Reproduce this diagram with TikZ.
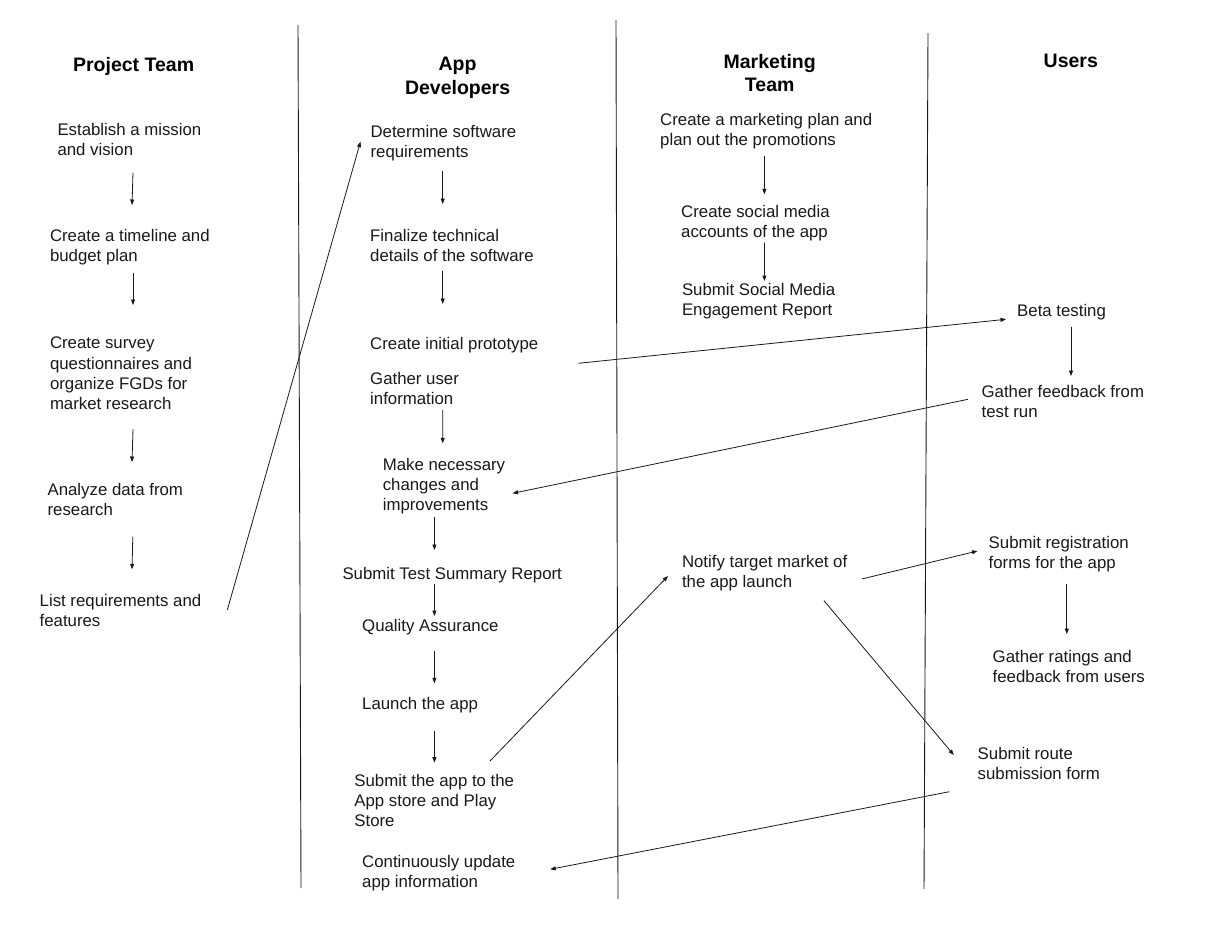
\documentclass[tikz,border=0pt]{standalone}
\usepackage{fontspec}
\setmainfont{Liberation Sans}
\usetikzlibrary{arrows.meta}
\begin{document}
\begin{tikzpicture}[x=1pt,y=-1pt,
  txt/.style={anchor=north west, inner sep=0pt, align=left, font=\fontsize{16.8}{20.1}\selectfont, text=black!90},
  head/.style={anchor=north, inner sep=0pt, align=center, font=\bfseries\fontsize{19.5}{23.3}\selectfont},
  arr/.style={-{Triangle[length=5.5pt,width=4pt]}, line width=0.8pt, black!90},
  lane/.style={line width=0.9pt, black!90}]
\fill[white] (0,0) rectangle (1214,929);
\useasboundingbox (0,0) rectangle (1214,929);

% lanes
\coordinate (l1t) at (298,25);  \coordinate (l1b) at (301,888);
\coordinate (l2t) at (616,20);  \coordinate (l2b) at (618,899);
\coordinate (l3t) at (928,33);  \coordinate (l3b) at (924,889);
\draw[lane] (l1t) -- (l1b);
\draw[lane] (l2t) -- (l2b);
\draw[lane] (l3t) -- (l3b);

% headers
\node[head] (hpt) at (133.6,56.7) {Project Team};
\node[head] (had) at (457.6,57.3) {App\\Developers};
\node[head] (hmk) at (769.7,54.3) {Marketing\\Team};
\node[head] (hus) at (1070.8,54.3) {Users};

% project team
\node[txt] (est) at (57.3,122.7) {Establish a mission\\and vision};
\node[txt] (tl)  at (49.8,229)   {Create a timeline and\\budget plan};
\node[txt] (sv)  at (49.8,337)   {Create survey\\questionnaires and\\organize FGDs for\\market research};
\node[txt] (an)  at (47.4,482.7) {Analyze data from\\research};
\node[txt] (lr)  at (39.5,594.3) {List requirements and\\features};

% app developers
\node[txt] (dsr) at (370.4,125)   {Determine software\\requirements};
\node[txt] (ftd) at (370,229.3)   {Finalize technical\\details of the software};
\node[txt] (cip) at (370,337.3)   {Create initial prototype};
\node[txt] (gui) at (370,371.7)   {Gather user\\information};
\node[txt] (mnc) at (382.6,458.3) {Make necessary\\changes and\\improvements};
\node[txt] (sts) at (342.3,567.3) {Submit Test Summary Report};
\node[txt] (qa)  at (362,619.3)   {Quality Assurance};
\node[txt] (la)  at (362,697.3)   {Launch the app};
\node[txt] (sas) at (354.2,774)   {Submit the app to the\\App store and Play\\Store};
\node[txt] (cu)  at (362,855)     {Continuously update\\app information};

% marketing
\node[txt] (mp) at (660,113.3)   {Create a marketing plan and\\plan out the promotions};
\node[txt] (sm) at (681,205)     {Create social media\\accounts of the app};
\node[txt] (se) at (681.8,282.7) {Submit Social Media\\Engagement Report};
\node[txt] (nt) at (681.8,555)   {Notify target market of\\the app launch};

% users
\node[txt] (bt)  at (1017,304)    {Beta testing};
\node[txt] (gf)  at (981.4,385)   {Gather feedback from\\test run};
\node[txt] (sr)  at (988.5,536)   {Submit registration\\forms for the app};
\node[txt] (gr)  at (992.5,650)   {Gather ratings and\\feedback from users};
\node[txt] (srf) at (977.5,747.3) {Submit route\\submission form};

% project arrows
\draw[arr] ([shift={(75.7,50)}]est.north west) -- ([shift={(82.2,-24)}]tl.north west);
\draw[arr] ([shift={(83.2,43.7)}]tl.north west) -- ([shift={(83.2,-32)}]sv.north west);
\draw[arr] ([shift={(83.2,92)}]sv.north west) -- ([shift={(84.6,-20.7)}]an.north west);
\draw[arr] ([shift={(85.4,54)}]an.north west) -- ([shift={(92.5,-25)}]lr.north west);
\draw[arr] ([shift={(187.8,15.7)}]lr.north west) -- ([shift={(-9.9,16.7)}]dsr.north west);

% developer arrows
\draw[arr] ([shift={(72.3,45.7)}]dsr.north west) -- ([shift={(72.7,-25.3)}]ftd.north west);
\draw[arr] ([shift={(72.7,41.4)}]ftd.north west) -- ([shift={(72.7,-33.3)}]cip.north west);
\draw[arr] ([shift={(72.7,38.3)}]gui.north west) -- ([shift={(60.1,-15)}]mnc.north west);
\draw[arr] ([shift={(51.8,58.4)}]mnc.north west) -- ([shift={(92.1,-17.3)}]sts.north west);
\draw[arr] ([shift={(92.1,16.7)}]sts.north west) -- ([shift={(72.4,-3.3)}]qa.north west);
\draw[arr] ([shift={(72.4,31.7)}]qa.north west) -- ([shift={(72.4,-14)}]la.north west);
\draw[arr] ([shift={(72.4,33.4)}]la.north west) -- ([shift={(80.2,-11.3)}]sas.north west);

% marketing arrows
\draw[arr] ([shift={(104.4,42.4)}]mp.north west) -- ([shift={(83.4,-10.7)}]sm.north west);
\draw[arr] ([shift={(83.4,37.7)}]sm.north west) -- ([shift={(82.6,-1.7)}]se.north west);

% user arrows
\draw[arr] ([shift={(54,22.7)}]bt.north west) -- ([shift={(89.6,-9)}]gf.north west);
\draw[arr] ([shift={(78.3,48)}]sr.north west) -- ([shift={(74.3,-16)}]gr.north west);

% cross-lane arrows
\draw[arr] ([shift={(208.3,26)}]cip.north west) -- ([shift={(-11,15.3)}]bt.north west);
\draw[arr] ([shift={(-13.4,14.3)}]gf.north west) -- ([shift={(130,35)}]mnc.north west);
\draw[arr] ([shift={(135.8,-13)}]sas.north west) -- ([shift={(-13.8,21)}]nt.north west);
\draw[arr] ([shift={(179.9,24)}]nt.north west) -- ([shift={(-11,15)}]sr.north west);
\draw[arr] ([shift={(142.2,45.7)}]nt.north west) -- ([shift={(-23.7,7.7)}]srf.north west);
\draw[arr] ([shift={(-28.1,44.4)}]srf.north west) -- ([shift={(188.2,14.3)}]cu.north west);
\end{tikzpicture}
\end{document}
